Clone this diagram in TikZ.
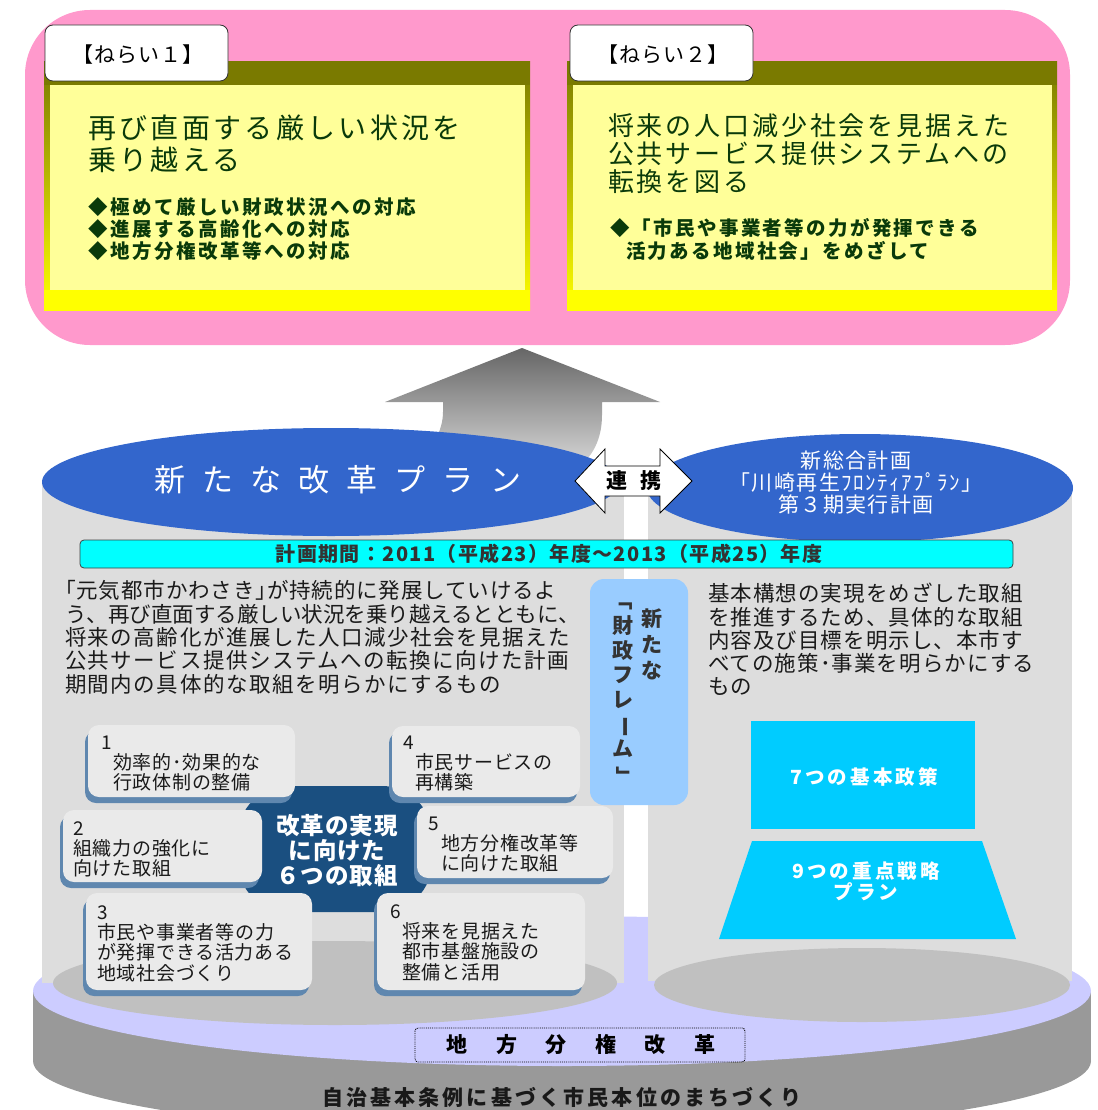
\documentclass[tikz,border=0pt]{standalone}
\usepackage{fontspec}
\setmainfont{Noto Sans CJK JP}
\usetikzlibrary{shadows}
\definecolor{pinkbg}{HTML}{FF99CC}
\definecolor{olivec}{HTML}{7A7A00}
\definecolor{lyellow}{HTML}{FFFF99}
\definecolor{yel}{HTML}{FFFF00}
\definecolor{dgreen}{HTML}{0A3A0A}
\definecolor{bodygray}{HTML}{DDDDDD}
\definecolor{basegray}{HTML}{C0C0C0}
\definecolor{lav}{HTML}{CCCCFF}
\definecolor{sidegray}{HTML}{999999}
\definecolor{blueell}{HTML}{3366CC}
\definecolor{boxfill}{HTML}{EAEAEA}
\definecolor{boxshadow}{HTML}{5F87AF}
\definecolor{blobc}{HTML}{1A4F80}
\definecolor{framebl}{HTML}{99CCFF}
\definecolor{cyanbar}{HTML}{00FFFF}
\definecolor{skyc}{HTML}{00CCFF}
\definecolor{txt}{HTML}{1A1A1A}
\definecolor{vtext}{HTML}{333333}
\definecolor{arrtop}{HTML}{666666}
\definecolor{arrbot}{HTML}{DADADA}
\newcommand\fz[2]{\fontsize{#1pt}{#2pt}\selectfont}
\newcommand\lsp[1]{\addfontfeature{LetterSpace=#1}}
\newcommand\tstrut{\rule{0pt}{0.88em}}
\begin{document}
\begin{tikzpicture}[x=1pt,y=-1pt,
  txtnode/.style={inner sep=0pt, outer sep=0pt, align=left, anchor=north west},
  tabbox/.style={draw=black!80, fill=white, rounded corners=8pt, line width=0.8pt},
  tabtxt/.style={inner sep=0pt, font=\fz{21}{24}\lsp{4}, text=black},
  sixbox/.style={fill=boxfill, rounded corners=11pt,
    drop shadow={shadow xshift=-3pt, shadow yshift=-6pt, fill=boxshadow, opacity=1}},
  boxtxt/.style={txtnode, text=txt, font=\fz{19}{20.3}\lsp{4}},
  wbold/.style={inner sep=0pt, text=white, font=\bfseries\fz{19.5}{21}\lsp{16}, align=center}]
\useasboundingbox (0,0) rectangle (1097,1110);
\clip (0,0) rectangle (1097,1110);

% ---------- top pink area ----------
\fill[pinkbg, rounded corners=65pt] (25,10) rectangle (1070,345);
\foreach \a/\b in {44/530, 567/1057} {
  \shade[top color=olivec, bottom color=yel] (\a,62) rectangle (\b,310);
  \fill[olivec] (\a,62) rectangle (\b,85);
  \fill[yel] (\a,290) rectangle (\b,310);
  \fill[lyellow] (\a+6,85) rectangle (\b-5,290);
}
\path[tabbox] (45,25) rectangle (228,81);
\path[tabbox] (570,25) rectangle (753,81);
\node[tabtxt] (tab1) at (138,55) {【ねらい１】};
\node[tabtxt] (tab2) at (663,55) {【ねらい２】};

\node[txtnode, text=dgreen, font=\fz{28}{32}\lsp{12}] (aim1) at (88,114)
  {\tstrut 再び直面する厳しい状況を\\乗り越える};
\node[txtnode, text=dgreen, font=\bfseries\fz{19.5}{22}\lsp{13}] (aim1b) at (88,197)
  {\tstrut ◆極めて厳しい財政状況への対応\\◆進展する高齢化への対応\\◆地方分権改革等への対応};
\node[txtnode, text=dgreen, font=\fz{26}{28}\lsp{11}] (aim2) at (608,113)
  {\tstrut 将来の人口減少社会を見据えた\\公共サービス提供システムへの\\転換を図る};
\node[txtnode, text=dgreen, font=\bfseries\fz{19.5}{23}\lsp{12}] (aim2b) at (610,218)
  {\tstrut ◆「市民や事業者等の力が発揮できる\\\hspace*{16pt}活力ある地域社会」をめざして};

% ---------- base disc ----------
\fill[sidegray] (562,1061) ellipse [x radius=529, y radius=75];
\fill[sidegray] (33,991) rectangle (1091,1061);
\fill[lav] (562,991) ellipse [x radius=529, y radius=75];

% ---------- cylinders ----------
\fill[bodygray] (42,482) rectangle (624,983);
\fill[basegray] (335,983) ellipse [x radius=282, y radius=42];
\fill[bodygray] (648,488) rectangle (1072,981);
\fill[basegray] (862,985) ellipse [x radius=208, y radius=37];

% ---------- big arrow ----------
\shade[top color=arrtop, bottom color=arrbot]
  (522,348) -- (660,402) -- (602,402) -- (602,415)
  .. controls (602,440) and (592,458) .. (575,470) -- (436,470) -- (436,440)
  .. controls (440,430) and (443,422) .. (443,412) -- (443,402) -- (385,402) -- cycle;

% ---------- blue ellipses ----------
\fill[blueell] (331,482) ellipse [x radius=289, y radius=54];
\fill[blueell] (860,488) ellipse [x radius=213, y radius=54];
\node[inner sep=0pt, text=white, font=\fz{31}{36}] (plan) at (338,480)
  {新\hspace{17pt}た\hspace{17pt}な\hspace{17pt}改\hspace{17pt}革\hspace{17pt}プ\hspace{17pt}ラ\hspace{17pt}ン};
\node[inner sep=0pt, text=white, align=center, font=\fz{21}{22}\lsp{7}] (sogo) at (856,483)
  {新総合計画\\「川崎再生ﾌﾛﾝﾃｨｱﾌﾟﾗﾝ」\\第３期実行計画};

% ---------- link arrow ----------
\draw[fill=white, draw=black, line width=0.8pt]
  (575,481) -- (605,449) -- (605,466) -- (660,466) -- (660,449) -- (692,481)
  -- (660,513) -- (660,496) -- (605,496) -- (605,513) -- cycle;
\node[inner sep=0pt, font=\bfseries\fz{21}{24}] (renkei) at (634,481) {連\hspace{13pt}携};

% ---------- period bar ----------
\draw[fill=cyanbar, draw=black!75, rounded corners=4pt, line width=0.8pt] (80,540) rectangle (1013,568);
\node[inner sep=0pt, text=vtext, font=\bfseries\fz{20}{23}\lsp{7}] (period) at (549,554)
  {計画期間：2011（平成23）年度～2013（平成25）年度};

% ---------- descriptions ----------
\node[txtnode, text=txt, font=\fz{21.5}{23.3}\lsp{7}] (descL) at (65,580)
  {\tstrut{\lsp{4}｢元気都市かわさき｣が持続的に発展していけるよ}\\{\lsp{0}う、再び直面する厳しい状況を乗り越えるとともに、}\\将来の高齢化が進展した人口減少社会を見据えた\\公共サービス提供システムへの転換に向けた計画\\期間内の具体的な取組を明らかにするもの};
\node[txtnode, text=txt, font=\fz{21.5}{23.1}\lsp{5}] (descR) at (708,583)
  {\tstrut 基本構想の実現をめざした取組\\を推進するため、具体的な取組\\内容及び目標を明示し、本市す\\べての施策･事業を明らかにする\\もの};

% ---------- financial frame ----------
\fill[framebl, rounded corners=14pt] (590,579) rectangle (688,805);
\node[inner sep=0pt, anchor=north, align=center, text=vtext, font=\bfseries\fz{21}{24.6}] (frameA) at (623,589.5)
  {\tstrut\rotatebox[origin=c]{-90}{「}\\財\\政\\フ\\レ\\\rotatebox[origin=c]{-90}{ー}\\ム\\\rotatebox[origin=c]{-90}{」}};
\node[inner sep=0pt, anchor=north, align=center, text=vtext, font=\bfseries\fz{21}{26}] (frameB) at (652,607.5)
  {\tstrut 新\\た\\な};

% ---------- six measures ----------
\fill[blobc, rounded corners=50pt] (238,786) rectangle (432,912);
\path[sixbox] (88,725) rectangle (295,797);
\path[sixbox] (392,726) rectangle (580,797);
\path[sixbox] (63,810) rectangle (262,882);
\path[sixbox] (417,806) rectangle (613,878);
\path[sixbox] (86,893) rectangle (312,990);
\path[sixbox] (377,893) rectangle (585,990);
\node[inner sep=0pt, align=center, text=white, font=\bfseries\fz{23.5}{25}\lsp{4}] (blobtxt) at (337,851)
  {改革の実現\\に向けた\\６つの取組};
\node[boxtxt] (m1) at (101,732.5) {\tstrut 1\\\hspace*{12pt}効率的･効果的な\\\hspace*{12pt}行政体制の整備};
\node[boxtxt] (m4) at (403,732.5) {\tstrut 4\\\hspace*{12pt}市民サービスの\\\hspace*{12pt}再構築};
\node[boxtxt] (m2) at (73,818.5) {\tstrut 2\\組織力の強化に\\向けた取組};
\node[boxtxt] (m5) at (428,813.5) {\tstrut 5\\\hspace*{13pt}地方分権改革等\\\hspace*{13pt}に向けた取組};
\node[boxtxt] (m3) at (97,902.5) {\tstrut 3\\市民や事業者等の力\\が発揮できる活力ある\\地域社会づくり};
\node[boxtxt] (m6) at (390,901.5) {\tstrut 6\\\hspace*{12pt}将来を見据えた\\\hspace*{12pt}都市基盤施設の\\\hspace*{12pt}整備と活用};

% ---------- policies ----------
\fill[skyc] (751,721) rectangle (975,829);
\node[wbold] (policy7) at (864,777) {7つの基本政策};
\fill[skyc] (752,841) -- (982,841) -- (1016,939) -- (719,939) -- cycle;
\node[wbold] (plan9) at (866,881) {9つの重点戦略\\プラン};

% ---------- bottom ----------
\draw[densely dotted, line width=0.9pt, rounded corners=3pt] (415,1028) rectangle (745,1062);
\node[inner sep=0pt, font=\bfseries\fz{21}{24}] (chiho) at (581,1045)
  {地\hspace{28.5pt}方\hspace{28.5pt}分\hspace{28.5pt}権\hspace{28.5pt}改\hspace{28.5pt}革};
\node[inner sep=0pt, text=black!90, font=\bfseries\fz{21}{24}\lsp{15}] (jichi) at (562,1097)
  {自治基本条例に基づく市民本位のまちづくり};
\end{tikzpicture}
\end{document}
